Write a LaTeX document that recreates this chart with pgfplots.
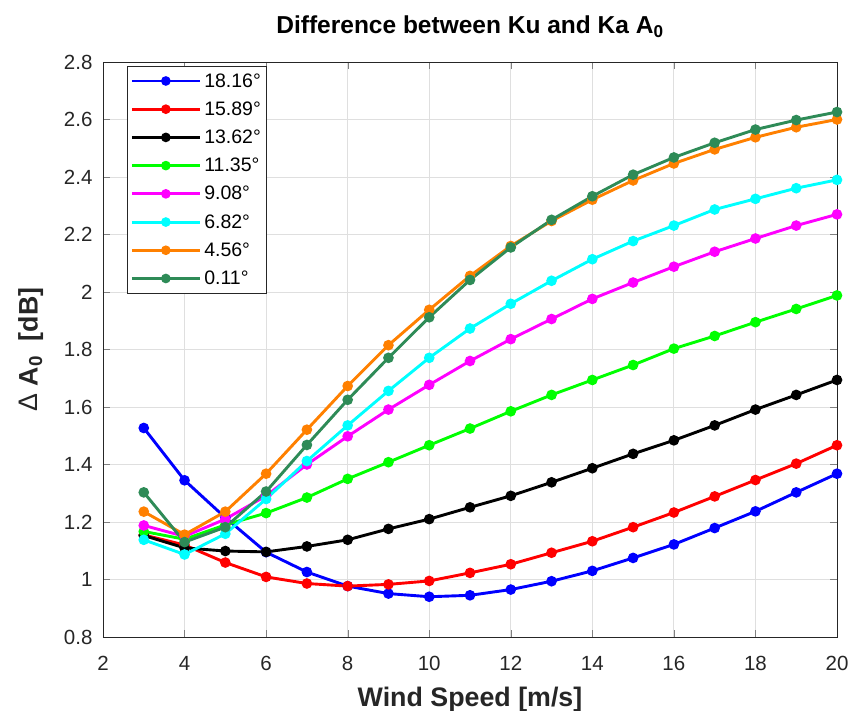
\documentclass[border=0pt]{standalone}
\usepackage{pgfplots}
\pgfplotsset{compat=1.18}
\usepackage{fontspec}
\setmainfont{Liberation Sans}
\definecolor{cblue}{RGB}{0,0,255}
\definecolor{cred}{RGB}{255,0,0}
\definecolor{cgreen}{RGB}{0,255,0}
\definecolor{cmag}{RGB}{255,0,255}
\definecolor{ccyan}{RGB}{0,255,255}
\definecolor{corange}{RGB}{255,128,0}
\definecolor{csea}{RGB}{46,139,87}
\definecolor{txt}{RGB}{38,38,38}
\begin{document}
\begin{tikzpicture}
\begin{axis}[
  name=ax,
  width=734pt, height=575pt, scale only axis,
  xmin=2, xmax=20, ymin=0.8, ymax=2.8,
  xtick={2,4,...,20}, ytick={0.8,1,...,2.8},
  tick pos=both, tick align=inside,
  major tick length=7pt,
  grid=major, grid style={gray!25, line width=0.8pt},
  axis line style={line width=0.8pt, txt},
  /pgf/number format/assume math mode=true,
  tick label style={font=\fontsize{20.5}{24}\selectfont, color=txt},
  yticklabel style={xshift=-7pt},
  xticklabel style={yshift=-16pt},
  title={\textbf{Difference between Ku and Ka A\textsubscript{0}}},
  title style={font=\fontsize{24.5}{28}\selectfont, yshift=15pt},
  xlabel={\textbf{Wind Speed [m/s]}},
  ylabel={Δ \textbf{A\textsubscript{0}~ [dB]}},
  label style={font=\fontsize{26.8}{30}\selectfont, color=txt},
  xlabel style={yshift=-9pt},
  ylabel style={yshift=14pt},
  every axis plot/.append style={line width=2.9pt, mark=*, mark size=3.8pt},
  legend style={at={(0.0327,0.993)}, anchor=north west, font=\fontsize{19.5}{22}\selectfont,
    draw=txt, line width=0.8pt, row sep=11.1pt, inner xsep=3pt, inner ysep=6pt,
    nodes={inner xsep=3pt, inner ysep=1pt},
    legend cell align=left},
  legend image code/.code={\draw[#1, line width=2.9pt] (0pt,0pt) -- (68pt,0pt); \fill[#1] (34pt,0pt) circle (3.3pt);},
]
\addplot[color=cblue] coordinates {(3,1.527)(4,1.345)(5,1.215)(6,1.095)(7,1.026)(8,0.977)(9,0.951)(10,0.940)(11,0.945)(12,0.965)(13,0.994)(14,1.030)(15,1.075)(16,1.122)(17,1.179)(18,1.237)(19,1.303)(20,1.368)};
\addlegendentry{18.16°}
\addplot[color=cred] coordinates {(3,1.155)(4,1.120)(5,1.059)(6,1.009)(7,0.986)(8,0.977)(9,0.983)(10,0.995)(11,1.023)(12,1.053)(13,1.093)(14,1.133)(15,1.182)(16,1.233)(17,1.289)(18,1.346)(19,1.403)(20,1.467)};
\addlegendentry{15.89°}
\addplot[color=black] coordinates {(3,1.153)(4,1.110)(5,1.099)(6,1.096)(7,1.115)(8,1.138)(9,1.176)(10,1.210)(11,1.251)(12,1.291)(13,1.338)(14,1.387)(15,1.437)(16,1.484)(17,1.536)(18,1.591)(19,1.642)(20,1.694)};
\addlegendentry{13.62°}
\addplot[color=cgreen] coordinates {(3,1.167)(4,1.140)(5,1.190)(6,1.231)(7,1.285)(8,1.350)(9,1.408)(10,1.467)(11,1.525)(12,1.585)(13,1.642)(14,1.694)(15,1.746)(16,1.803)(17,1.847)(18,1.895)(19,1.941)(20,1.988)};
\addlegendentry{11.35°}
\addplot[color=cmag] coordinates {(3,1.188)(4,1.150)(5,1.210)(6,1.291)(7,1.400)(8,1.498)(9,1.591)(10,1.677)(11,1.760)(12,1.836)(13,1.906)(14,1.976)(15,2.033)(16,2.088)(17,2.140)(18,2.186)(19,2.231)(20,2.270)};
\addlegendentry{9.08°}
\addplot[color=ccyan] coordinates {(3,1.138)(4,1.087)(5,1.159)(6,1.280)(7,1.412)(8,1.536)(9,1.656)(10,1.771)(11,1.873)(12,1.959)(13,2.039)(14,2.114)(15,2.177)(16,2.231)(17,2.287)(18,2.324)(19,2.361)(20,2.390)};
\addlegendentry{6.82°}
\addplot[color=corange] coordinates {(3,1.236)(4,1.156)(5,1.236)(6,1.368)(7,1.521)(8,1.673)(9,1.815)(10,1.938)(11,2.056)(12,2.160)(13,2.247)(14,2.321)(15,2.388)(16,2.447)(17,2.496)(18,2.538)(19,2.573)(20,2.600)};
\addlegendentry{4.56°}
\addplot[color=csea] coordinates {(3,1.303)(4,1.130)(5,1.182)(6,1.306)(7,1.468)(8,1.625)(9,1.771)(10,1.912)(11,2.042)(12,2.155)(13,2.251)(14,2.333)(15,2.408)(16,2.468)(17,2.519)(18,2.565)(19,2.598)(20,2.626)};
\addlegendentry{0.11°}
\end{axis}
\pgfresetboundingbox
\path[use as bounding box] ([xshift=-103pt,yshift=-74pt]ax.south west) rectangle ([xshift=12pt,yshift=62pt]ax.north east);
\end{tikzpicture}
\end{document}
